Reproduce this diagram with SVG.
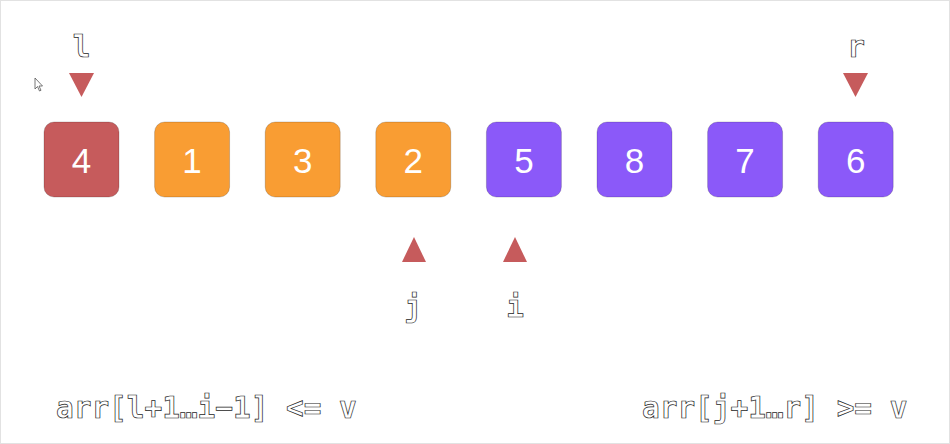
<svg xmlns="http://www.w3.org/2000/svg" width="950" height="444" viewBox="0 0 950 444">
<style>
.box rect{stroke:rgba(0,0,0,0.18);stroke-width:1}
.red{fill:#c65b5c}
.org{fill:#f99d33}
.pur{fill:#8b59f9}
.num{font-family:"Liberation Sans",Arial,sans-serif;font-size:35px;fill:#fff;text-anchor:middle}
.code{font-family:"DejaVu Sans Mono",monospace;font-size:29.4px;font-weight:bold;fill:#fff;stroke:#1a1a1a;stroke-width:0.7}
.ptr{fill:#c65b5c}
#labels{opacity:0.99}
</style>
<rect x="0.5" y="0.5" width="949" height="443" fill="#fff" stroke="#e2e2e2"/>
<path d="M35,78 L35,89 L37.5,86.5 L39.5,91 L41,90.3 L39,86 L42.5,86 Z" fill="#fff" stroke="#555" stroke-width="0.8"/>
<g id="node-0" class="box"><rect class="red" x="44" y="122" width="75" height="75" rx="10"/><text class="num" x="81.5" y="173">4</text></g>
<g id="node-1" class="box"><rect class="org" x="154.6" y="122" width="75" height="75" rx="10"/><text class="num" x="192.1" y="173">1</text></g>
<g id="node-2" class="box"><rect class="org" x="265.2" y="122" width="75" height="75" rx="10"/><text class="num" x="302.7" y="173">3</text></g>
<g id="node-3" class="box"><rect class="org" x="375.8" y="122" width="75" height="75" rx="10"/><text class="num" x="413.3" y="173">2</text></g>
<g id="node-4" class="box"><rect class="pur" x="486.4" y="122" width="75" height="75" rx="10"/><text class="num" x="523.9" y="173">5</text></g>
<g id="node-5" class="box"><rect class="pur" x="597" y="122" width="75" height="75" rx="10"/><text class="num" x="634.5" y="173">8</text></g>
<g id="node-6" class="box"><rect class="pur" x="707.6" y="122" width="75" height="75" rx="10"/><text class="num" x="745.1" y="173">7</text></g>
<g id="node-7" class="box"><rect class="pur" x="818.2" y="122" width="75" height="75" rx="10"/><text class="num" x="855.7" y="173">6</text></g>
<g id="connectors">
<polygon id="ptr-l" class="ptr" points="69,73 94,73 81.5,97"/>
<polygon id="ptr-r" class="ptr" points="843,73 868,73 855.5,97"/>
<polygon id="ptr-j" class="ptr" points="414,237 426,262 402,262"/>
<polygon id="ptr-i" class="ptr" points="515,237 527,262 503,262"/>
</g>
<g id="labels">
<text class="code" x="81.5" y="57" text-anchor="middle">l</text>
<text class="code" x="856" y="57" text-anchor="middle">r</text>
<text class="code" x="413" y="317" text-anchor="middle">j</text>
<text class="code" x="515" y="317" text-anchor="middle">i</text>
<text class="code" x="56" y="418">arr[l+1…i−1] &lt;= v</text>
<text class="code" x="642" y="418">arr[j+1…r] &gt;= v</text>
</g>
</svg>
